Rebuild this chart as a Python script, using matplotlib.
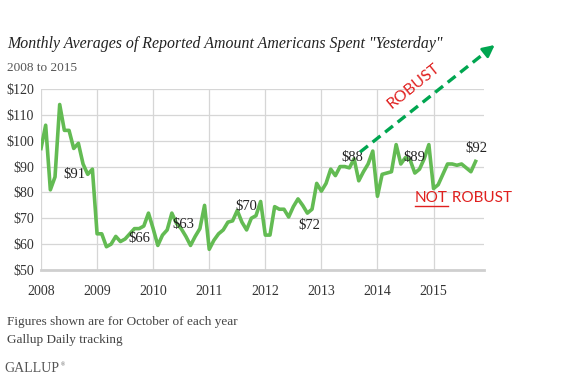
import matplotlib
matplotlib.use("Agg")
import matplotlib.pyplot as plt
import numpy as np

# ---- data (monthly averages, Jan 2008 .. Oct 2015) ----
v2008 = [97, 106, 81, 86, 114, 104, 104, 97, 99, 91, 87, 89]
v2009 = [64, 64, 59, 60, 63, 61, 62, 64, 66, 66, 67, 72]
v2010 = [66, 59.5, 63.5, 65.5, 72, 68, 66, 63, 59.5, 63, 66, 75]
v2011 = [58, 61.5, 64, 65.5, 68.5, 69, 73, 68.5, 65.5, 70, 71, 76.5]
v2012 = [63.5, 63.5, 74.5, 73.5, 73.5, 70.5, 74.5, 77.5, 75, 72, 73.5, 83.5]
v2013 = [80.5, 83.5, 89, 86.5, 90, 90, 89.5, 93, 84.5, 88, 91, 96]
v2014 = [78.5, 87, 87.5, 88, 98.5, 91, 93.5, 92.5, 87.5, 89, 93, 98.5]
v2015 = [81.5, 83, 87, 91, 91, 90.5, 91, 89.5, 88, 92]
years = [2008, 2009, 2010, 2011, 2012, 2013, 2014, 2015]
yearly = [v2008, v2009, v2010, v2011, v2012, v2013, v2014, v2015]
ytick_vals = [50, 60, 70, 80, 90, 100, 110, 120]
ytick_labels = ["$50", "$60", "$70", "$80", "$90", "$100", "$110", "$120"]
xtick_labels = ["2008", "2009", "2010", "2011", "2012", "2013", "2014", "2015"]

# label offsets (pixels) for October values
label_offsets = [(-9, -11), (0, -10), (-12, 12), (-5, 12), (2, -12), (-11, 14), (-5, 12), (1, 13)]

x = []
y = []
for yr, vals in zip(years, yearly):
    for m, v in enumerate(vals):
        x.append(yr + m / 12)
        y.append(v)
x = np.array(x)
y = np.array(y)

W, H = 577, 383
fig = plt.figure(figsize=(W / 100, H / 100), dpi=100)
fig.patch.set_facecolor("white")

left_px, right_px, top_px, bot_px = 41, 484, 89, 270
ax = fig.add_axes([left_px / W, 1 - bot_px / H, (right_px - left_px) / W, (bot_px - top_px) / H])
ax.set_xlim(2008, 2015.9)
ax.set_ylim(50, 120)

serif = "Liberation Serif"
sans = "Lato"

ax.set_yticks(ytick_vals)
ax.set_yticklabels(ytick_labels, fontfamily=serif, fontsize=10, color="#333333")
ax.set_xticks(years)
ax.set_xticklabels(xtick_labels, fontfamily=serif, fontsize=10, color="#333333")
ax.tick_params(axis="both", length=0)
ax.tick_params(axis="y", pad=5)
ax.tick_params(axis="x", pad=11)

for s in ["top", "right", "left"]:
    ax.spines[s].set_visible(False)
ax.spines["bottom"].set_color("#cfcfcf")
ax.spines["bottom"].set_linewidth(2)
ax.grid(True, color="#d6d6d6", linewidth=0.9)
ax.set_axisbelow(True)

ax.plot(x, y, color="#63bb53", linewidth=2.6, solid_joinstyle="round", zorder=3)

# October labels
for yr, vals, off in zip(years, yearly, label_offsets):
    v = vals[9]
    ax.annotate(f"${v:.0f}", xy=(yr + 9 / 12, v), xytext=off, textcoords="offset pixels",
                ha="center", va="center", fontfamily=serif, fontsize=10.5, color="#222222", zorder=4)

# dashed "robust" arrow
gx0, gy0 = 2013.69, 95.6
gx1, gy1 = 2016.13, 137.7
green = "#00a650"
frac = 0.95
ax.plot([gx0, gx0 + (gx1 - gx0) * frac], [gy0, gy0 + (gy1 - gy0) * frac], color=green,
        linewidth=2.4, linestyle=(0, (3, 1.8)), clip_on=False, zorder=5)
ax.annotate("", xy=(gx1, gy1), xytext=(gx0 + (gx1 - gx0) * 0.93, gy0 + (gy1 - gy0) * 0.93),
            arrowprops=dict(arrowstyle="-|>,head_length=0.7,head_width=0.35", color=green, lw=2),
            annotation_clip=False, zorder=5)

red = "#e0201f"
fig.text(414 / W, 1 - 86 / H, "ROBUST", rotation=39, rotation_mode="anchor", ha="center", va="center",
         fontfamily=sans, fontsize=11.5, color=red)
t_not = fig.text(415 / W, 1 - 198 / H, "NOT", ha="left", va="center", fontfamily=sans, fontsize=11, color=red)
fig.canvas.draw()
bb = t_not.get_window_extent()
fig.text(bb.x1 / W, 1 - 198 / H, " ROBUST", ha="left", va="center", fontfamily=sans, fontsize=11, color=red)
fig.add_artist(plt.Line2D([bb.x0 / W, bb.x1 / W], [(bb.y0 - 0.5) / H, (bb.y0 - 0.5) / H],
                          color=red, linewidth=1.0, transform=fig.transFigure))

# titles / footnotes
fig.text(7 / W, 1 - 44 / H, "Monthly Averages of Reported Amount Americans Spent \"Yesterday\"",
         fontfamily=serif, fontstyle="italic", fontsize=11.4, color="#222222", va="center", ha="left")
fig.text(7 / W, 1 - 68 / H, "2008 to 2015", fontfamily=serif, fontsize=9.5, color="#555555", va="center", ha="left")
fig.text(7 / W, 1 - 322 / H, "Figures shown are for October of each year", fontfamily=serif, fontsize=9.5,
         color="#444444", va="center", ha="left")
fig.text(7 / W, 1 - 340 / H, "Gallup Daily tracking", fontfamily=serif, fontsize=9.5,
         color="#444444", va="center", ha="left")
fig.text(4 / W, 1 - 369 / H, "GALLUP", fontfamily=serif, fontsize=10, color="#555555", va="center", ha="left")
fig.text(61 / W, 1 - 365 / H, "\u00ae", fontfamily=serif, fontsize=4, color="#555555", va="center", ha="left")

fig.savefig("out.png", dpi=100, facecolor="white")
